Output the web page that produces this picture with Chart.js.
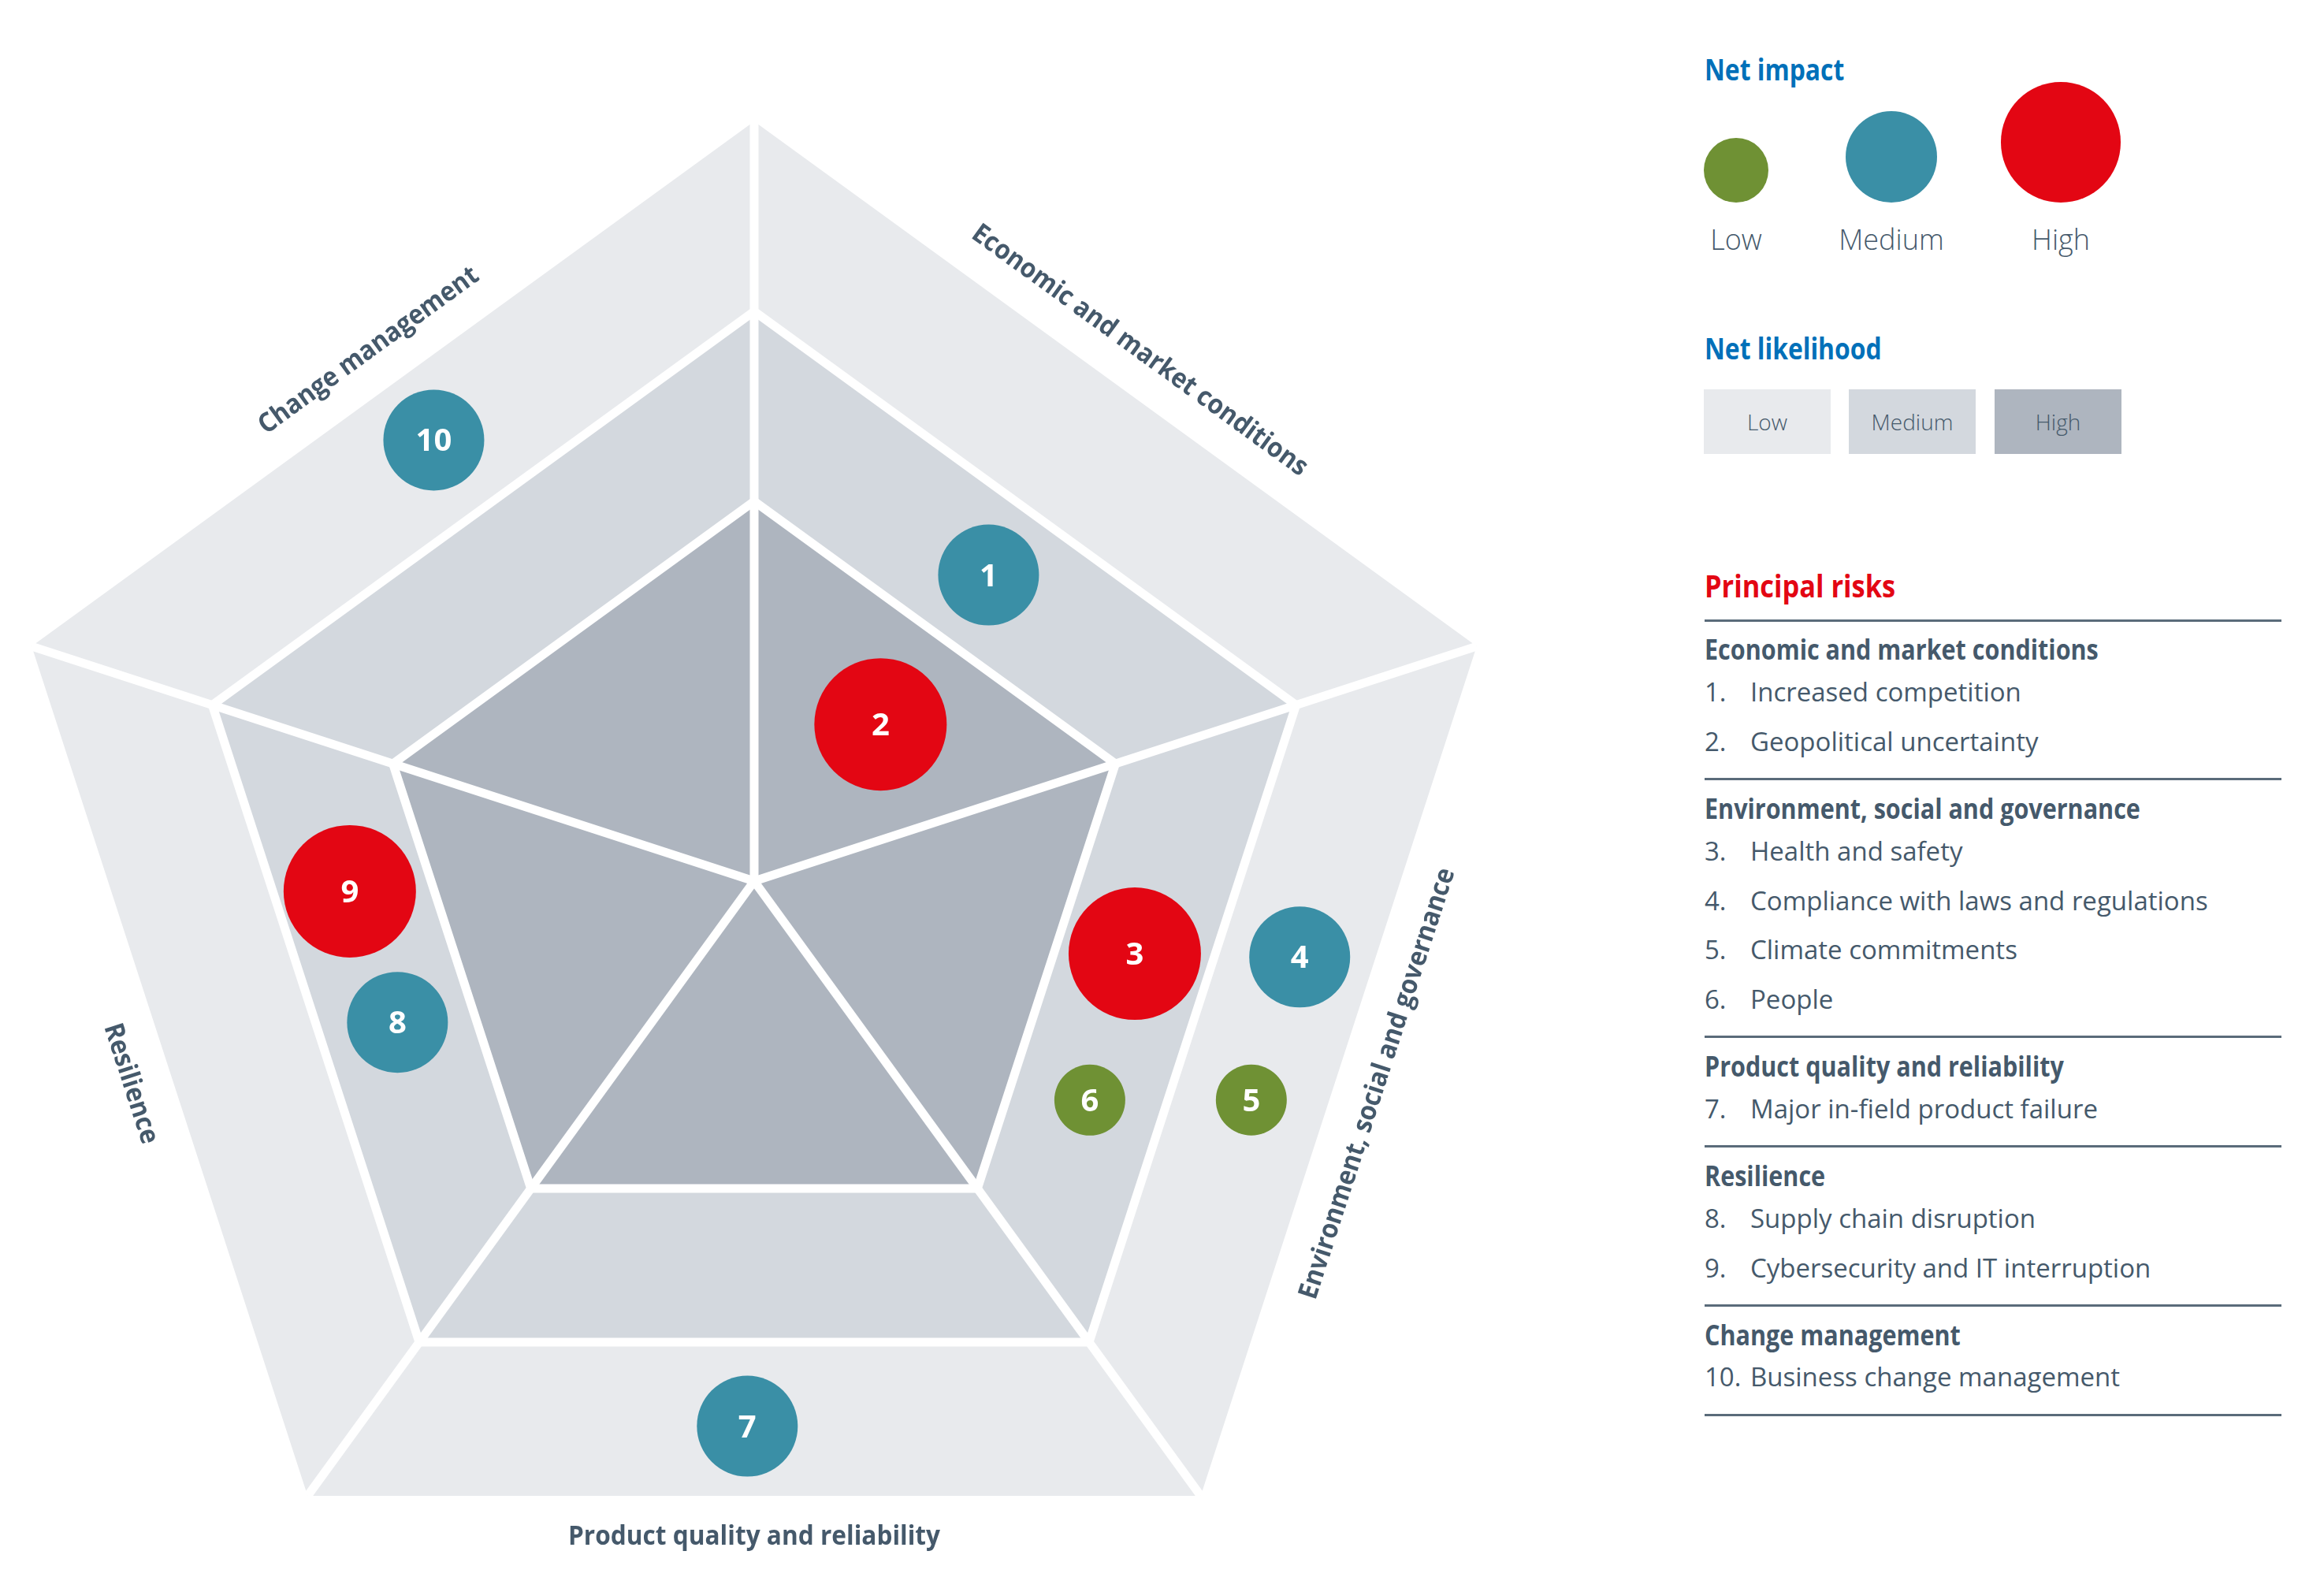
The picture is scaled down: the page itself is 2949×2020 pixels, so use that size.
<!DOCTYPE html>
<html>
<head>
<meta charset="utf-8">
<title>Principal risks</title>
<script src="https://cdn.jsdelivr.net/npm/chart.js@4.4.1/dist/chart.umd.min.js"></script>
<style>
    html, body { margin: 0; padding: 0; background: #fff; }
    body {
        width: 2949px; height: 2020px; position: relative; overflow: hidden;
        font-family: 'Open Sans', sans-serif; color: #45596b;
    }
    #chart_box { position: absolute; left: -7px; top: 154px; width: 1928px; height: 1928px; }
    .t { position: absolute; white-space: nowrap; line-height: 1; }
    .head { font-weight: 700; transform: scaleX(0.86); transform-origin: left center; }
    .body { font-weight: 400; }
    .light { font-weight: 300; }
    .dot { position: absolute; border-radius: 50%; }
    .box {
        position: absolute; width: 161px; height: 82px;
        display: flex; align-items: center; justify-content: center;
        font-size: 28px; font-weight: 300;
    }
    .rule { position: absolute; left: 2163px; width: 732px; height: 3px; background: #5a6b7a; }
</style>
</head>
<body>
<div id="chart_box"><canvas id="risk_chart"></canvas></div>
<div id="panel"></div>
<script>
// Sectors of the pentagon, clockwise from the top spoke
const sectorNames = [
    'Economic and market conditions',
    'Environment, social and governance',
    'Product quality and reliability',
    'Resilience',
    'Change management'
];

// Likelihood bands and how far each one reaches on the radial scale
const likelihoodLevels = ['Low', 'Medium', 'High'];
const likelihoodReach = [4, 3, 2];

const impactLevels = ['Low', 'Medium', 'High'];

// Principal risks
const riskNumbers = [1, 2, 3, 4, 5, 6, 7, 8, 9, 10];
const riskNames = [
    'Increased competition',
    'Geopolitical uncertainty',
    'Health and safety',
    'Compliance with laws and regulations',
    'Climate commitments',
    'People',
    'Major in-field product failure',
    'Supply chain disruption',
    'Cybersecurity and IT interruption',
    'Business change management'
];
const riskSector = [0, 0, 1, 1, 1, 1, 2, 3, 3, 4];
// angle in spoke units (0 = top spoke), distance in scale units
const riskAngle = [0.52, 0.54, 1.40, 1.36, 1.58, 1.71, 2.51, 3.45, 3.73, 4.50];
const riskLevel = [2.03, 1.06, 2.04, 2.90, 2.86, 2.11, 2.87, 2.02, 2.13, 2.87];
const riskImpact = ['Medium', 'High', 'High', 'Medium', 'Low', 'Low', 'Medium', 'Medium', 'High', 'Medium'];

// Styles
const bandColours = { Low: '#e8eaed', Medium: '#d3d8de', High: '#aeb5bf' };
const impactColours = { Low: '#6f9134', Medium: '#3a8fa6', High: '#e30613' };
const impactRadius = { Low: 45, Medium: 64, High: 84 };
const textColour = '#45596b';

/**
 * Draw the risk bubbles on top of the grid
 */
const riskBubbles = {
    id: 'riskBubbles',
    afterDraw(chart) {
        const scale = chart.scales.r;
        const ctx = chart.ctx;
        ctx.save();
        riskNumbers.forEach((num, i) => {
            const dist = scale.getDistanceFromCenterForValue(riskLevel[i]);
            const pos = scale.getPointPosition(riskAngle[i], dist);
            const level = riskImpact[i];
            ctx.beginPath();
            ctx.arc(pos.x, pos.y, impactRadius[level], 0, Math.PI * 2);
            ctx.fillStyle = impactColours[level];
            ctx.fill();
            ctx.fillStyle = '#ffffff';
            ctx.font = '700 40px "Open Sans"';
            ctx.textAlign = 'center';
            ctx.textBaseline = 'alphabetic';
            ctx.fillText(String(num), pos.x, pos.y + 14);
        });
        ctx.restore();
    }
};

/**
 * Sector names along the outer edges
 */
const sectorLabels = {
    id: 'sectorLabels',
    afterDraw(chart) {
        const scale = chart.scales.r;
        const ctx = chart.ctx;
        const outer = scale.getDistanceFromCenterForValue(likelihoodReach[0]);
        ctx.save();
        ctx.font = '700 34px "Open Sans"';
        ctx.fillStyle = textColour;
        ctx.textAlign = 'center';
        ctx.textBaseline = 'middle';
        sectorNames.forEach((name, i) => {
            const angle = scale.getIndexAngle(i + 0.5);
            const pos = scale.getPointPosition(i + 0.5, outer * 0.863);
            let rot = angle;
            if (rot > Math.PI / 2 && rot < Math.PI * 1.5) rot -= Math.PI;
            ctx.save();
            ctx.translate(pos.x, pos.y);
            ctx.rotate(rot);
            ctx.scale(0.93, 1);
            ctx.fillText(name, 0, 0);
            ctx.restore();
        });
        ctx.restore();
    }
};

const bandDatasets = likelihoodLevels.map((level, i) => ({
    label: level,
    data: sectorNames.map(() => likelihoodReach[i]),
    backgroundColor: bandColours[level],
    borderColor: 'rgba(0,0,0,0)',
    borderWidth: 0,
    pointRadius: 0,
    fill: 'origin'
})).reverse();

const riskChart = new Chart(document.getElementById('risk_chart'), {
    type: 'radar',
    data: {
        labels: sectorNames,
        datasets: bandDatasets
    },
    options: {
        responsive: true,
        maintainAspectRatio: false,
        animation: false,
        events: [],
        layout: { padding: 0 },
        plugins: {
            legend: { display: false },
            tooltip: { enabled: false }
        },
        scales: {
            r: {
                min: 0,
                max: 4,
                startAngle: 0,
                ticks: { display: false, stepSize: 1 },
                pointLabels: { display: false },
                grid: {
                    z: 1,
                    lineWidth: 11,
                    color: function(ctx) {
                        const v = ctx.tick ? ctx.tick.value : 0;
                        return (v === 2 || v === 3) ? '#ffffff' : 'rgba(0,0,0,0)';
                    }
                },
                angleLines: { color: '#ffffff', lineWidth: 11 }
            }
        }
    },
    plugins: [riskBubbles, sectorLabels]
});

/**
 * Right hand panel: legends and list of principal risks
 */
const panel = document.getElementById('panel');
const panelX = 2163;

function addText(text, opts) {
    const el = document.createElement('div');
    el.className = 't ' + (opts.cls || '');
    el.textContent = text;
    el.style.fontSize = opts.size + 'px';
    el.style.top = (opts.baseline - opts.size * 0.888) + 'px';
    el.style.left = opts.x + 'px';
    if (opts.color) el.style.color = opts.color;
    if (opts.center) el.style.transform = 'translateX(-50%)';
    panel.appendChild(el);
    return el;
}

function addRule(y) {
    const el = document.createElement('div');
    el.className = 'rule';
    el.style.top = (y - 1.5) + 'px';
    panel.appendChild(el);
}

// Net impact
addText('Net impact', { cls: 'head', size: 37, x: panelX, baseline: 102, color: '#0070b9' });
const impactX = [2203, 2400, 2615];
impactLevels.forEach((level, i) => {
    const r = impactRadius[level] * 0.91;
    const dot = document.createElement('div');
    dot.className = 'dot';
    dot.style.width = dot.style.height = (r * 2) + 'px';
    dot.style.left = (impactX[i] - r) + 'px';
    dot.style.top = (257 - r * 2) + 'px';
    dot.style.background = impactColours[level];
    panel.appendChild(dot);
    addText(level, { cls: 'light', size: 36, x: impactX[i], baseline: 318, center: true });
});

// Net likelihood
addText('Net likelihood', { cls: 'head', size: 37, x: panelX, baseline: 456, color: '#0070b9' });
const boxX = [2162, 2346, 2531];
likelihoodLevels.forEach((level, i) => {
    const b = document.createElement('div');
    b.className = 'box';
    b.style.left = boxX[i] + 'px';
    b.style.top = '494px';
    b.style.background = bandColours[level];
    b.textContent = level;
    panel.appendChild(b);
});

// Principal risks
addText('Principal risks', { cls: 'head', size: 40, x: panelX, baseline: 759, color: '#e30613' });
let y = 787;
addRule(y);
sectorNames.forEach((name, s) => {
    let base = y + 51;
    addText(name, { cls: 'head', size: 35.5, x: panelX, baseline: base });
    base += 52.5;
    riskNumbers.forEach((num, i) => {
        if (riskSector[i] !== s) return;
        addText(num + '.', { cls: 'body', size: 33, x: panelX, baseline: base });
        addText(riskNames[i], { cls: 'body', size: 33, x: 2221, baseline: base });
        base += 62.8;
    });
    y = base - 62.8 + 35.3;
    addRule(y);
});
</script>
</body>
</html>
